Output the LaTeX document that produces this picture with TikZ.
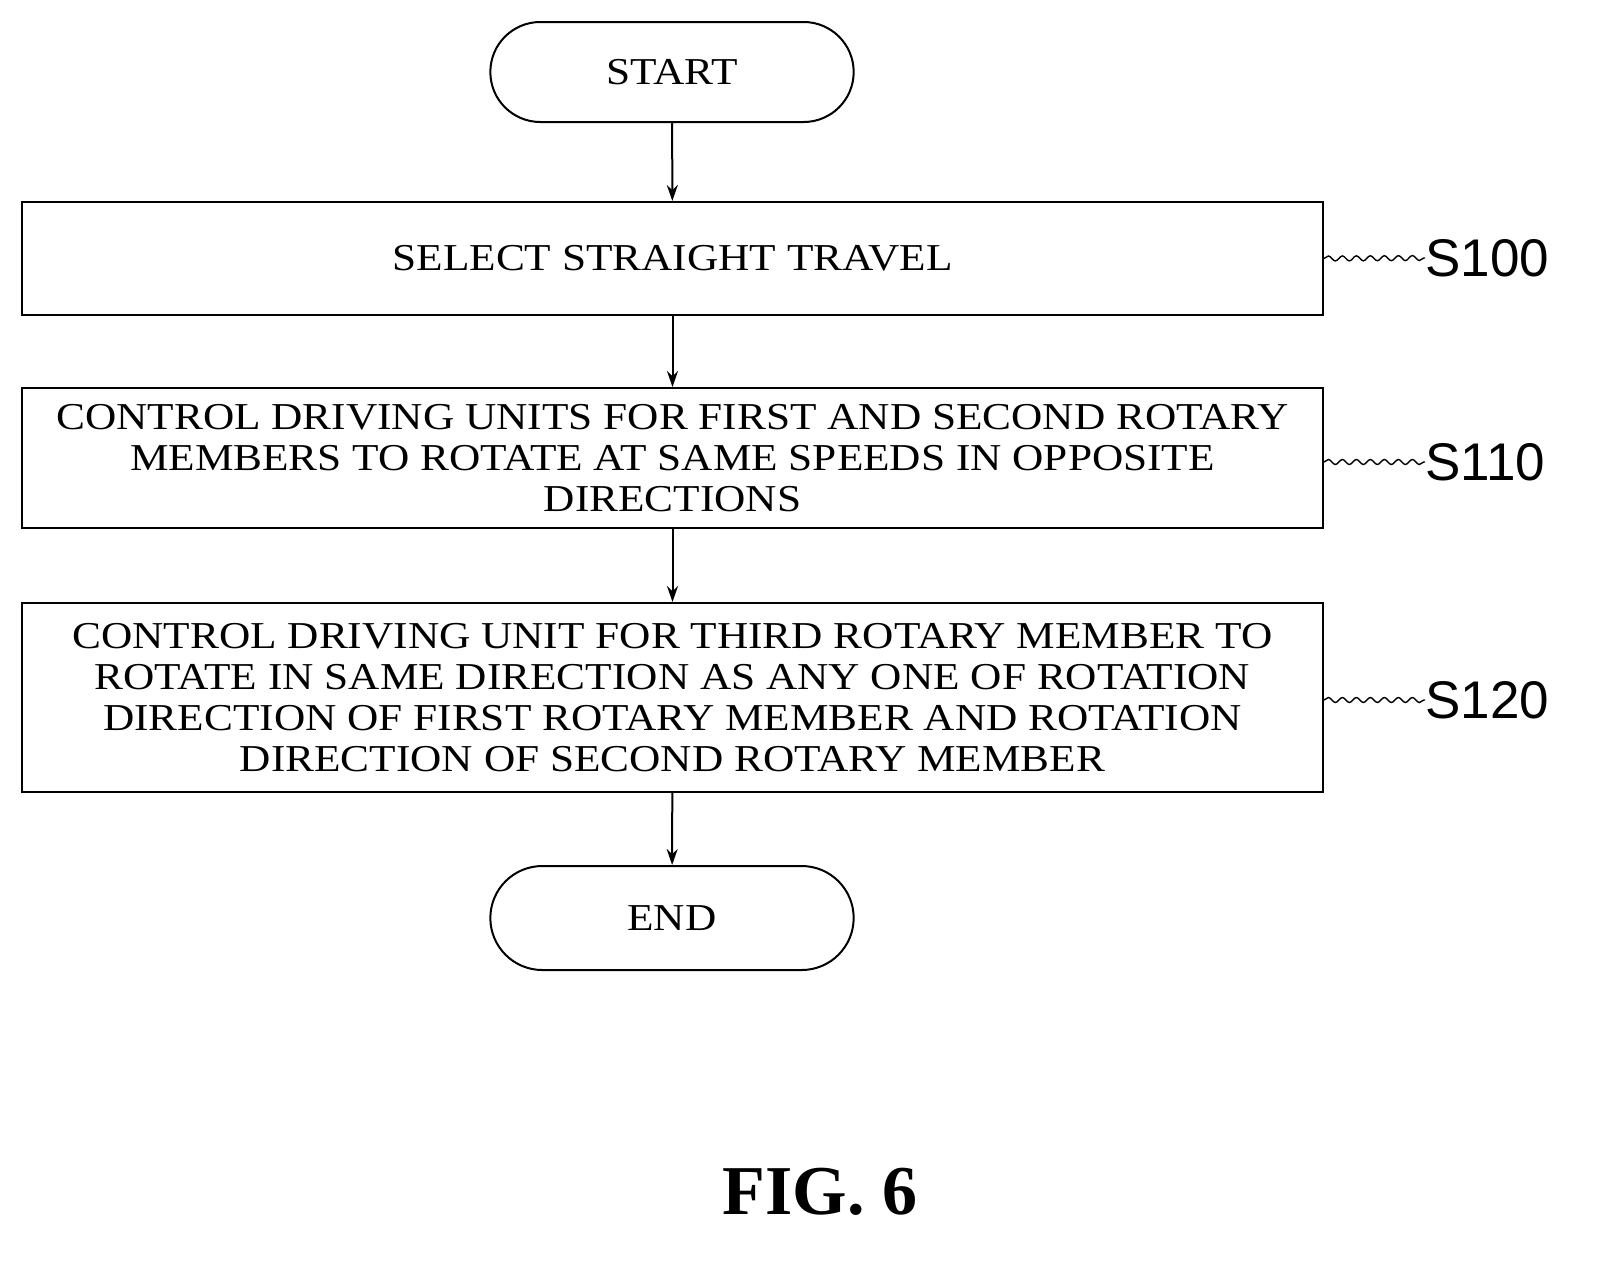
\documentclass[tikz,border=0pt]{standalone}
\usepackage{fontspec}
\setmainfont{Liberation Serif}
\newfontfamily\boxfont[FakeStretch=1.14]{Liberation Serif}
\newfontfamily\labfont{Liberation Sans}
\usetikzlibrary{shapes.misc,decorations.pathmorphing,arrows.meta}
\begin{document}
\begin{tikzpicture}[x=1pt,y=-1pt,
  box/.style={draw,line width=2pt,minimum width=1301pt,inner sep=0pt,align=center,font=\boxfont\fontsize{38}{41}\selectfont},
  term/.style={draw,line width=2pt,rounded rectangle,minimum width=370pt,minimum height=100pt,font=\boxfont\fontsize{38}{41}\selectfont},
  arr/.style={line width=2pt,-{Stealth[length=16pt,width=11pt]}},
  sq/.style={line width=1.4pt,decorate,decoration={snake,amplitude=2.5pt,segment length=14pt}},
  lab/.style={font=\labfont\fontsize{53}{56}\selectfont,anchor=west,inner sep=0pt}]
\useasboundingbox (0,0) rectangle (1600,1264);
\node[term] (start) at (672,72) {START};
\node[box,minimum height=113pt] (s100) at (672.5,258.5) {SELECT STRAIGHT TRAVEL};
\node[box,minimum height=140pt] (s110) at (672.5,458) {CONTROL DRIVING UNITS FOR FIRST AND SECOND ROTARY\\MEMBERS TO ROTATE AT SAME SPEEDS IN OPPOSITE\\DIRECTIONS};
\node[box,minimum height=189pt] (s120) at (672.5,697.5) {CONTROL DRIVING UNIT FOR THIRD ROTARY MEMBER TO\\ROTATE IN SAME DIRECTION AS ANY ONE OF ROTATION\\DIRECTION OF FIRST ROTARY MEMBER AND ROTATION\\DIRECTION OF SECOND ROTARY MEMBER};
\node[term,minimum height=104pt] (end) at (672,918) {END};
\draw[arr] (start) -- (s100);
\draw[arr] (s100) -- (s110);
\draw[arr] (s110) -- (s120);
\draw[arr] (s120) -- (end);
\node[lab] (l100) at (1425,258) {S100};
\node[lab] (l110) at (1425,462) {S110};
\node[lab] (l120) at (1425,700) {S120};
\draw[sq] (s100.east) -- (l100.west);
\draw[sq] (s110.east |- l110) -- (l110.west);
\draw[sq] (s120.east |- l120) -- (l120.west);
\node[font=\bfseries\fontsize{70}{74}\selectfont] (fig) at (820,1192) {FIG. 6};
\end{tikzpicture}
\end{document}
